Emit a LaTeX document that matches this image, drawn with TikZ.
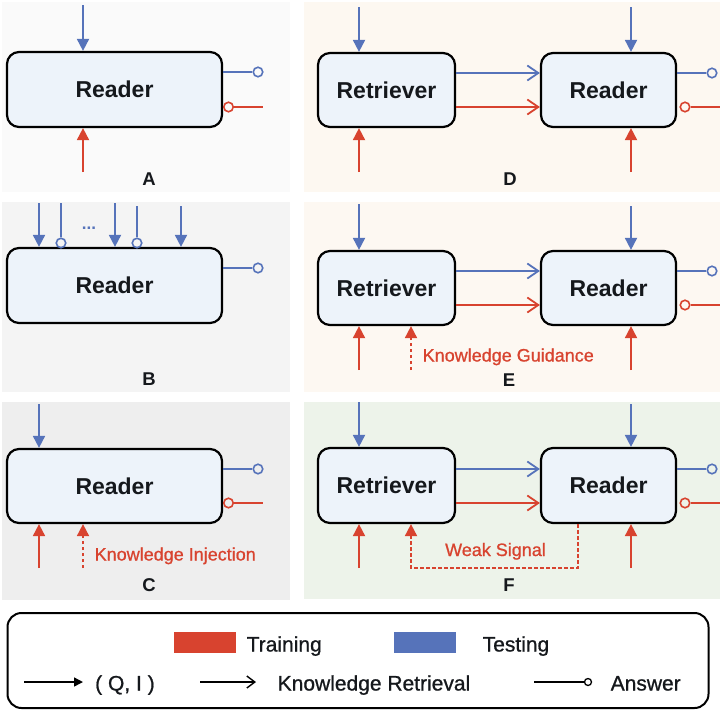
\documentclass[tikz,border=0pt]{standalone}
\usepackage{fontspec}
\setmainfont{Liberation Sans}
\newfontfamily\medfont[FakeBold=0.9]{Liberation Sans}
\usetikzlibrary{arrows.meta}
\definecolor{tblue}{HTML}{5673BA}
\definecolor{tred}{HTML}{D8432F}
\definecolor{boxfill}{HTML}{EDF3FA}
\definecolor{txt}{HTML}{15181C}
\definecolor{bgA}{HTML}{FAFAFA}
\definecolor{bgB}{HTML}{F4F4F4}
\definecolor{bgC}{HTML}{EEEEEE}
\definecolor{bgD}{HTML}{FDF8F1}
\definecolor{bgE}{HTML}{FDF8F2}
\definecolor{bgF}{HTML}{EDF3EA}
\tikzset{
  box/.style={draw=black, line width=2.2pt, rounded corners=12pt, fill=boxfill, inner sep=0pt,
    font=\fontsize{23}{27}\selectfont\bfseries, text=txt, minimum height=75pt},
  barr/.style={draw=tblue, line width=1.8pt, -{Triangle[length=12pt,width=12pt]}},
  rarr/.style={draw=tred, line width=1.8pt, -{Triangle[length=12pt,width=12pt]}},
  rdarr/.style={draw=tred, line width=1.8pt, dash pattern=on 3.5pt off 2.5pt, -{Triangle[length=12pt,width=12pt]}},
  bopen/.style={draw=tblue, line width=1.8pt, -{Straight Barb[length=11pt,width=15pt]}},
  ropen/.style={draw=tred, line width=1.8pt, -{Straight Barb[length=11pt,width=15pt]}},
  bline/.style={draw=tblue, line width=1.8pt},
  rline/.style={draw=tred, line width=1.8pt},
  ansc/.style={circle, line width=1.6pt, minimum size=9.5pt, inner sep=0pt},
  plabel/.style={font=\fontsize{18.5}{20}\selectfont\bfseries, text=txt, anchor=base, inner sep=0pt},
  rtext/.style={font=\fontsize{18}{20}\medfont, text=tred, inner sep=0pt},
  ltext/.style={font=\fontsize{21}{24}\medfont, text=txt, anchor=base west, inner sep=0pt},
}
\begin{document}
\begin{tikzpicture}[x=1pt,y=-1pt]
\useasboundingbox (0,0) rectangle (722,712);
% backgrounds
\fill[bgA] (2,2) rectangle (290,192);
\fill[bgB] (2,202) rectangle (290,392);
\fill[bgC] (2,402) rectangle (290,600);
\fill[bgD] (304,2) rectangle (720,192);
\fill[bgE] (304,202) rectangle (720,392);
\fill[bgF] (304,402) rectangle (720,599);

% ---------- Panel A ----------
\node[box, minimum width=215pt] (rA) at (114.5,89.5) {\raisebox{-2pt}{Reader}};
\coordinate (tA) at (83,5);
\draw[barr] (tA) -- (tA |- rA.north);
\coordinate (bA) at (83,172);
\draw[rarr] (bA) -- (bA |- rA.south);
\node[ansc, draw=tblue] (oA1) at (258,72) {};
\draw[bline] (rA.east |- oA1) -- (oA1.west);
\node[ansc, draw=tred] (oA2) at (228.5,107) {};
\coordinate (eA2) at (263,107);
\draw[rline] (oA2.east) -- (eA2);
\node[plabel] (labA) at (149,185) {A};

% ---------- Panel B ----------
\node[box, minimum width=215pt] (rB) at (114.5,285.5) {\raisebox{-2pt}{Reader}};
\coordinate (tB1) at (39,203);
\coordinate (tB2) at (61,203);
\coordinate (tB3) at (115,203);
\coordinate (tB4) at (137,206);
\coordinate (tB5) at (181,206);
\draw[barr] (tB1) -- (tB1 |- rB.north);
\draw[barr] (tB3) -- (tB3 |- rB.north);
\draw[barr] (tB5) -- (tB5 |- rB.north);
\node[ansc, draw=tblue] (cB1) at (61,243) {};
\node[ansc, draw=tblue] (cB2) at (137,243) {};
\draw[bline] (tB2) -- (cB1.north);
\draw[bline] (tB4) -- (cB2.north);
\node[font=\fontsize{17}{18}\selectfont\bfseries, text=tblue, inner sep=0pt] (dots) at (89,228) {...};
\node[ansc, draw=tblue] (oB1) at (258,268) {};
\draw[bline] (rB.east |- oB1) -- (oB1.west);
\node[plabel] (labB) at (149,385) {B};

% ---------- Panel C ----------
\node[box, minimum width=215pt, minimum height=74pt] (rC) at (114.5,486) {\raisebox{-2pt}{Reader}};
\coordinate (tC) at (39,404);
\draw[barr] (tC) -- (tC |- rC.north);
\coordinate (bC1) at (39,568);
\draw[rarr] (bC1) -- (bC1 |- rC.south);
\coordinate (bC2) at (83,568);
\draw[rdarr] (bC2) -- (bC2 |- rC.south);
\node[rtext, anchor=base west] (kinj) at (94.5,560.5) {Knowledge Injection};
\node[ansc, draw=tblue] (oC1) at (258,469) {};
\draw[bline] (rC.east |- oC1) -- (oC1.west);
\node[ansc, draw=tred] (oC2) at (228.5,503) {};
\coordinate (eC2) at (263,503);
\draw[rline] (oC2.east) -- (eC2);
\node[plabel] (labC) at (149,591.5) {C};

% ---------- Panel D ----------
\node[box, minimum width=137pt, minimum height=74pt] (rtD) at (386.5,90) {\raisebox{-2pt}{Retriever}};
\node[box, minimum width=135pt, minimum height=74pt] (rdD) at (608.5,90) {\raisebox{-2pt}{Reader}};
\draw[bopen] (rtD.east |- 0,73) -- (rdD.west |- 0,73);
\draw[ropen] (rtD.east |- 0,107) -- (rdD.west |- 0,107);
\coordinate (tD1) at (359,7);
\coordinate (tD2) at (631,7);
\draw[barr] (tD1) -- (tD1 |- rtD.north);
\draw[barr] (tD2) -- (tD2 |- rdD.north);
\coordinate (bD1) at (359,172);
\coordinate (bD2) at (631,172);
\draw[rarr] (bD1) -- (bD1 |- rtD.south);
\draw[rarr] (bD2) -- (bD2 |- rdD.south);
\node[ansc, draw=tblue] (oD1) at (712,73) {};
\draw[bline] (rdD.east |- oD1) -- (oD1.west);
\node[ansc, draw=tred] (oD2) at (685,107) {};
\coordinate (eD2) at (720,107);
\draw[rline] (oD2.east) -- (eD2);
\node[plabel] (labD) at (510,185) {D};

% ---------- Panel E ----------
\node[box, minimum width=137pt, minimum height=74pt] (rtE) at (386.5,288) {\raisebox{-2pt}{Retriever}};
\node[box, minimum width=135pt, minimum height=74pt] (rdE) at (608.5,288) {\raisebox{-2pt}{Reader}};
\draw[bopen] (rtE.east |- 0,271) -- (rdE.west |- 0,271);
\draw[ropen] (rtE.east |- 0,305) -- (rdE.west |- 0,305);
\coordinate (tE1) at (359,204);
\coordinate (tE2) at (631,206);
\draw[barr] (tE1) -- (tE1 |- rtE.north);
\draw[barr] (tE2) -- (tE2 |- rdE.north);
\coordinate (bE1) at (359,370);
\coordinate (bE2) at (631,370);
\coordinate (bE3) at (411,370);
\draw[rarr] (bE1) -- (bE1 |- rtE.south);
\draw[rarr] (bE2) -- (bE2 |- rdE.south);
\draw[rdarr] (bE3) -- (bE3 |- rtE.south);
\node[rtext, anchor=base west] (kgui) at (422.5,361.5) {Knowledge Guidance};
\node[ansc, draw=tblue] (oE1) at (712,271) {};
\draw[bline] (rdE.east |- oE1) -- (oE1.west);
\node[ansc, draw=tred] (oE2) at (685,305) {};
\coordinate (eE2) at (720,305);
\draw[rline] (oE2.east) -- (eE2);
\node[plabel] (labE) at (509,386) {E};

% ---------- Panel F ----------
\node[box, minimum width=137pt] (rtF) at (386.5,485.5) {\raisebox{-2pt}{Retriever}};
\node[box, minimum width=135pt] (rdF) at (608.5,485.5) {\raisebox{-2pt}{Reader}};
\draw[bopen] (rtF.east |- 0,469) -- (rdF.west |- 0,469);
\draw[ropen] (rtF.east |- 0,503) -- (rdF.west |- 0,503);
\coordinate (tF1) at (359,402);
\coordinate (tF2) at (631,404);
\draw[barr] (tF1) -- (tF1 |- rtF.north);
\draw[barr] (tF2) -- (tF2 |- rdF.north);
\coordinate (bF1) at (359,568);
\coordinate (bF2) at (631,568);
\draw[rarr] (bF1) -- (bF1 |- rtF.south);
\draw[rarr] (bF2) -- (bF2 |- rdF.south);
\coordinate (wF1) at (578,568);
\coordinate (wF2) at (411,568);
\draw[rdarr] (rdF.south -| wF1) -- (wF1) -- (wF2) -- (wF2 |- rtF.south);
\node[rtext, anchor=base] (weak) at (495.5,556) {Weak Signal};
\node[ansc, draw=tblue] (oF1) at (712,469) {};
\draw[bline] (rdF.east |- oF1) -- (oF1.west);
\node[ansc, draw=tred] (oF2) at (685,503) {};
\coordinate (eF2) at (720,503);
\draw[rline] (oF2.east) -- (eF2);
\node[plabel] (labF) at (509,591.5) {F};

% ---------- Legend ----------
\node[draw=black, line width=2pt, rounded corners=14pt, minimum width=701pt, minimum height=95pt, inner sep=0pt] (leg) at (358,660.5) {};
\node[fill=tred, minimum width=62pt, minimum height=21pt, inner sep=0pt] (lred) at (205,642.5) {};
\node[ltext] (ltrain) at (246.5,651.5) {Training};
\node[fill=tblue, minimum width=62pt, minimum height=21pt, inner sep=0pt] (lblue) at (425,642.5) {};
\node[ltext] (ltest) at (482.5,651.5) {Testing};
\coordinate (la1) at (24,682);
\coordinate (la2) at (83,682);
\draw[line width=1.4pt, -{Triangle[length=9pt,width=9pt]}] (la1) -- (la2);
\node[ltext] (lqi) at (95,690.5) {( Q, I )};
\coordinate (lb1) at (200,682);
\coordinate (lb2) at (256,682);
\draw[line width=1.4pt, -{Straight Barb[length=8pt,width=12pt]}] (lb1) -- (lb2);
\node[ltext] (lkr) at (277.5,690.5) {Knowledge Retrieval};
\node[circle, draw=black, line width=1.3pt, minimum size=7pt, inner sep=0pt] (lc) at (588,682) {};
\coordinate (lc1) at (534,682);
\draw[line width=1.4pt] (lc1) -- (lc.west);
\node[ltext] (lans) at (610.5,690.5) {Answer};
\end{tikzpicture}
\end{document}
